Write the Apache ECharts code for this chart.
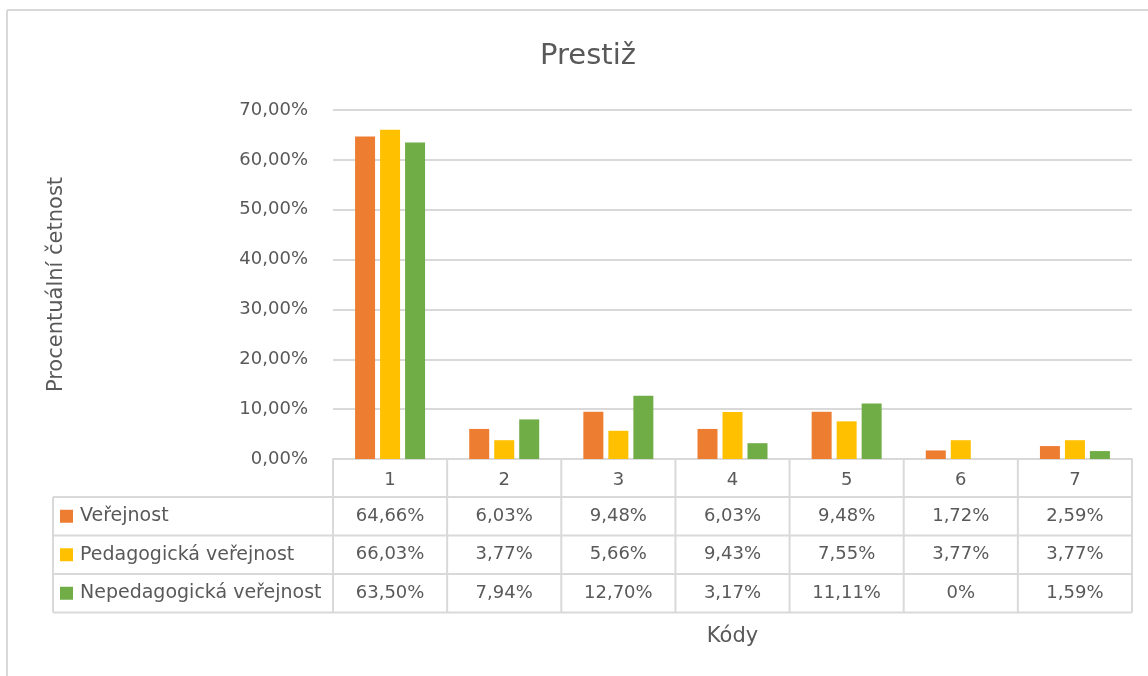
<!DOCTYPE html>
<html>
<head>
<meta charset="utf-8">
<script src="https://cdn.jsdelivr.net/npm/echarts@6/dist/echarts.min.js"></script>
<style>
  html, body { margin: 0; padding: 0; background: #fff; }
  #chart { width: 1148px; height: 676px; }
</style>
</head>
<body>
<div id="chart"></div>
<script>
// data
const categories = ['1', '2', '3', '4', '5', '6', '7'];
const seriesNames = ['Veřejnost', 'Pedagogická veřejnost', 'Nepedagogická veřejnost'];
const verejnost = [64.66, 6.03, 9.48, 6.03, 9.48, 1.72, 2.59];
const pedagogicka = [66.03, 3.77, 5.66, 9.43, 7.55, 3.77, 3.77];
const nepedagogicka = [63.50, 7.94, 12.70, 3.17, 11.11, 0, 1.59];
const seriesData = [verejnost, pedagogicka, nepedagogicka];

const colors = ['#ED7D31', '#FFC000', '#70AD47'];
const font = 'DejaVu Sans';
const textColor = '#595959';
const lineColor = '#D9D9D9';

// 70,00% / 0%
const fmtPct = (v, fixed) => (v === 0 && !fixed) ? '0%' : v.toFixed(2).replace('.', ',') + '%';

const chart = echarts.init(document.getElementById('chart'));

const option = {
  animation: false,
  color: colors,
  title: {
    text: 'Prestiž',
    left: 583,
    textAlign: 'center',
    top: 37,
    textStyle: { fontFamily: font, fontSize: 29, fontWeight: 'normal', color: textColor }
  },
  grid: { left: 333, right: 16, top: 110, bottom: 217 },
  xAxis: {
    type: 'category',
    data: categories,
    name: 'Kódy',
    nameLocation: 'middle',
    nameGap: 167,
    nameTextStyle: { fontFamily: font, fontSize: 21, color: textColor },
    axisLine: { lineStyle: { color: lineColor, width: 2 } },
    axisTick: { show: false },
    axisLabel: { fontFamily: font, fontSize: 18, color: textColor, margin: 21, verticalAlign: 'middle' }
  },
  yAxis: {
    type: 'value',
    min: 0,
    max: 70,
    interval: 10,
    name: 'Procentuální četnost',
    nameLocation: 'middle',
    nameGap: 266,
    nameTextStyle: { fontFamily: font, fontSize: 21, color: textColor },
    axisLine: { show: false },
    axisTick: { show: false },
    axisLabel: {
      fontFamily: font, fontSize: 18, color: textColor, margin: 25,
      formatter: v => fmtPct(v, true)
    },
    splitLine: { lineStyle: { color: lineColor, width: 2 } }
  },
  series: seriesNames.map((name, i) => ({
    name: name,
    type: 'bar',
    data: seriesData[i],
    barWidth: 20,
    barGap: '25%'
  }))
};

chart.setOption(option);

// data table under the plot, placed from the axes
const buildTable = () => {
  const c0 = chart.convertToPixel({ xAxisIndex: 0 }, 0);
  const c1 = chart.convertToPixel({ xAxisIndex: 0 }, 1);
  const band = c1 - c0;
  const left = c0 - band / 2;
  const right = left + band * categories.length;
  const yBase = chart.convertToPixel({ yAxisIndex: 0 }, 0);
  const tableLeft = 53;
  const headerH = 38;
  const rowH = 38.5;
  const bottom = yBase + headerH + rowH * seriesNames.length;
  const lineStyle = { stroke: lineColor, lineWidth: 2 };
  const els = [];

  // outer frame of the screenshot
  els.push({ type: 'line', shape: { x1: 7, y1: 10, x2: 1148, y2: 10 }, style: lineStyle, silent: true });
  els.push({ type: 'line', shape: { x1: 7, y1: 10, x2: 7, y2: 676 }, style: lineStyle, silent: true });

  // vertical lines
  for (let i = 0; i <= categories.length; i++) {
    const x = left + band * i;
    els.push({ type: 'line', shape: { x1: x, y1: yBase, x2: x, y2: bottom }, style: lineStyle });
  }
  els.push({ type: 'line', shape: { x1: tableLeft, y1: yBase + headerH, x2: tableLeft, y2: bottom }, style: lineStyle });

  // horizontal lines
  for (let r = 0; r <= seriesNames.length; r++) {
    const y = yBase + headerH + rowH * r;
    els.push({ type: 'line', shape: { x1: tableLeft, y1: y, x2: right, y2: y }, style: lineStyle });
  }

  // rows
  seriesNames.forEach((name, r) => {
    const yc = yBase + headerH + rowH * r + rowH / 2;
    els.push({ type: 'rect', shape: { x: 60, y: yc - 6.5, width: 13, height: 13 }, style: { fill: colors[r] } });
    els.push({
      type: 'text', x: 80, y: yc,
      style: { text: name, fontFamily: font, fontSize: 19, fill: textColor, align: 'left', verticalAlign: 'middle' }
    });
    seriesData[r].forEach((v, i) => {
      els.push({
        type: 'text', x: left + band * i + band / 2, y: yc,
        style: { text: fmtPct(v, false), fontFamily: font, fontSize: 18, fill: textColor, align: 'center', verticalAlign: 'middle' }
      });
    });
  });

  chart.setOption({ graphic: els });
};

buildTable();
</script>
</body>
</html>
